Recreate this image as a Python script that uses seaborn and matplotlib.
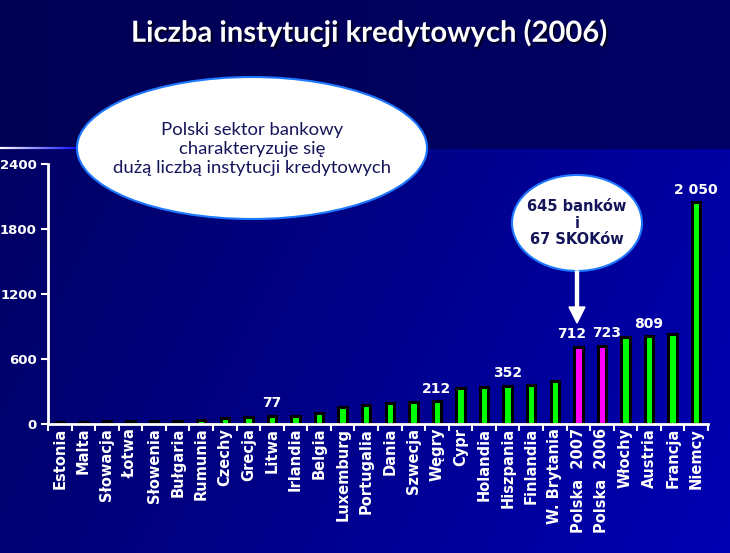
import numpy as np
import pandas as pd
import matplotlib
matplotlib.use("Agg")
import matplotlib.pyplot as plt
import seaborn as sns
from matplotlib.patches import Ellipse, FancyArrow
import matplotlib.patheffects as pe

categories = ["Estonia", "Malta", "Słowacja", "Łotwa", "Słowenia", "Bułgaria", "Rumunia",
              "Czechy", "Grecja", "Litwa", "Irlandia", "Belgia", "Luxemburg", "Portugalia",
              "Dania", "Szwecja", "Węgry", "Cypr", "Holandia", "Hiszpania", "Finlandia",
              "W. Brytania", "Polska  2007", "Polska  2006", "Włochy", "Austria", "Francja", "Niemcy"]
values = [14, 22, 24, 28, 25, 32, 39, 57, 62, 77, 78, 105, 156, 178,
          191, 204, 212, 336, 345, 352, 361, 401, 712, 723, 807, 809, 829, 2050]
highlight = ["Polska  2007", "Polska  2006"]
labelled = {"Litwa": "77", "Węgry": "212", "Hiszpania": "352", "Polska  2007": "712",
            "Polska  2006": "723", "Austria": "809", "Niemcy": "2 050"}
yticks = [0, 600, 1200, 1800, 2400]

title = "Liczba instytucji kredytowych (2006)"
bubble1 = "Polski sektor bankowy\ncharakteryzuje się\ndużą liczbą instytucji kredytowych"
bubble2 = "645 banków\ni\n67 SKOKów"

# small horizontal nudges of value labels (in category units), layout only
label_nudge = {"Polska  2007": -0.3, "Polska  2006": 0.2}

sns.set_theme(style="white")
plt.rcParams['font.family'] = ['DejaVu Sans']

W, H = 730, 553
fig = plt.figure(figsize=(W / 100, H / 100), dpi=100)

# background
bg = fig.add_axes([0, 0, 1, 1], zorder=-10)
bg.set_axis_off()
xs = np.linspace(0, 1, W)
ys = np.linspace(0, 1, H)
X, Y = np.meshgrid(xs, ys)
split = 149
top = np.zeros((H, W, 3))
top[..., 2] = (0x55 + 0x10 * X) / 255.0
low = np.zeros((H, W, 3))
low[..., 2] = np.clip((0x5c + 0x40 * X + 0x18 * Y) / 255.0, 0, 1)
img = np.where((np.arange(H)[:, None, None] < split), top, low)
bg.imshow(img, extent=[0, W, H, 0], aspect='auto')
for i in range(80):
    a = 1 - i / 80
    bg.plot([i, i + 1], [split - 1.5, split - 1.5], color=(a, a, 1.0), lw=1.6,
            solid_capstyle='butt')
bg.set_xlim(0, W)
bg.set_ylim(H, 0)

df = pd.DataFrame({"kraj": categories, "liczba": values})
colors = {c: ("#ff00ff" if c in highlight else "#00ff00") for c in categories}

ax = fig.add_axes([48 / W, 1 - 424 / H, (708 - 48) / W, (424 - 164) / H])
ax.set_facecolor("none")
sns.barplot(data=df, x="kraj", y="liczba", hue="kraj", palette=colors, legend=False,
            edgecolor="black", linewidth=2.2, width=0.36, ax=ax, saturation=1)
ax.set_xlim(-0.5, len(categories) - 0.5)
ax.set_ylim(0, 2400)
ax.set_yticks(yticks)
ax.set_yticklabels([str(t) for t in yticks], color="white", fontsize=9.5, fontweight="bold")
ax.set_xticks(np.arange(len(categories) + 1) - 0.5)
ax.set_xticklabels([])
for i, c in enumerate(categories):
    ax.text(i, -35, c, rotation=90, ha="center", va="top", color="white",
            fontsize=10.5, fontweight="bold")
ax.set_xlabel("")
ax.set_ylabel("")
for s in ["top", "right"]:
    ax.spines[s].set_visible(False)
for s in ["left", "bottom"]:
    ax.spines[s].set_color("white")
    ax.spines[s].set_linewidth(2)
ax.tick_params(axis="x", direction="out", length=5, width=1.5, color="white", bottom=True)
ax.tick_params(axis="y", direction="out", length=5, width=1.5, color="white", left=True, pad=3)

for i, (c, v) in enumerate(zip(categories, values)):
    if c in labelled:
        ax.text(i + label_nudge.get(c, 0), v + 50, labelled[c], ha="center", va="bottom",
                color="white", fontsize=10, fontweight="bold")

# title
fig.text(369 / W, 1 - 33 / H, title, ha="center", va="center", color="white",
         fontsize=21, fontweight="bold", family="Lato",
         path_effects=[pe.withSimplePatchShadow(offset=(1.5, -1.5), shadow_rgbFace="#000020", alpha=0.9)])

ov = fig.add_axes([0, 0, 1, 1], zorder=10)
ov.set_axis_off()
ov.set_xlim(0, W)
ov.set_ylim(H, 0)
ov.patch.set_alpha(0)
e1 = Ellipse((252, 148), 350, 142, facecolor="white", edgecolor="#1e78ff", lw=1.5, zorder=5)
ov.add_patch(e1)
ov.text(252, 149, bubble1, ha="center", va="center", color="#15155a", fontsize=13.3,
        family="Lato", linespacing=1.22, zorder=6)
e2 = Ellipse((577, 223), 130, 96, facecolor="white", edgecolor="#1e78ff", lw=1.5, zorder=5)
ov.add_patch(e2)
ov.text(577, 223, bubble2, ha="center", va="center", color="#15155a", fontsize=10.5,
        fontweight="bold", family="DejaVu Sans", linespacing=1.15, zorder=6)
ov.add_patch(FancyArrow(577, 271, 0, 52, width=3, head_width=16, head_length=16,
                        length_includes_head=True, color="white", zorder=6))

fig.savefig("out.png", dpi=100)
